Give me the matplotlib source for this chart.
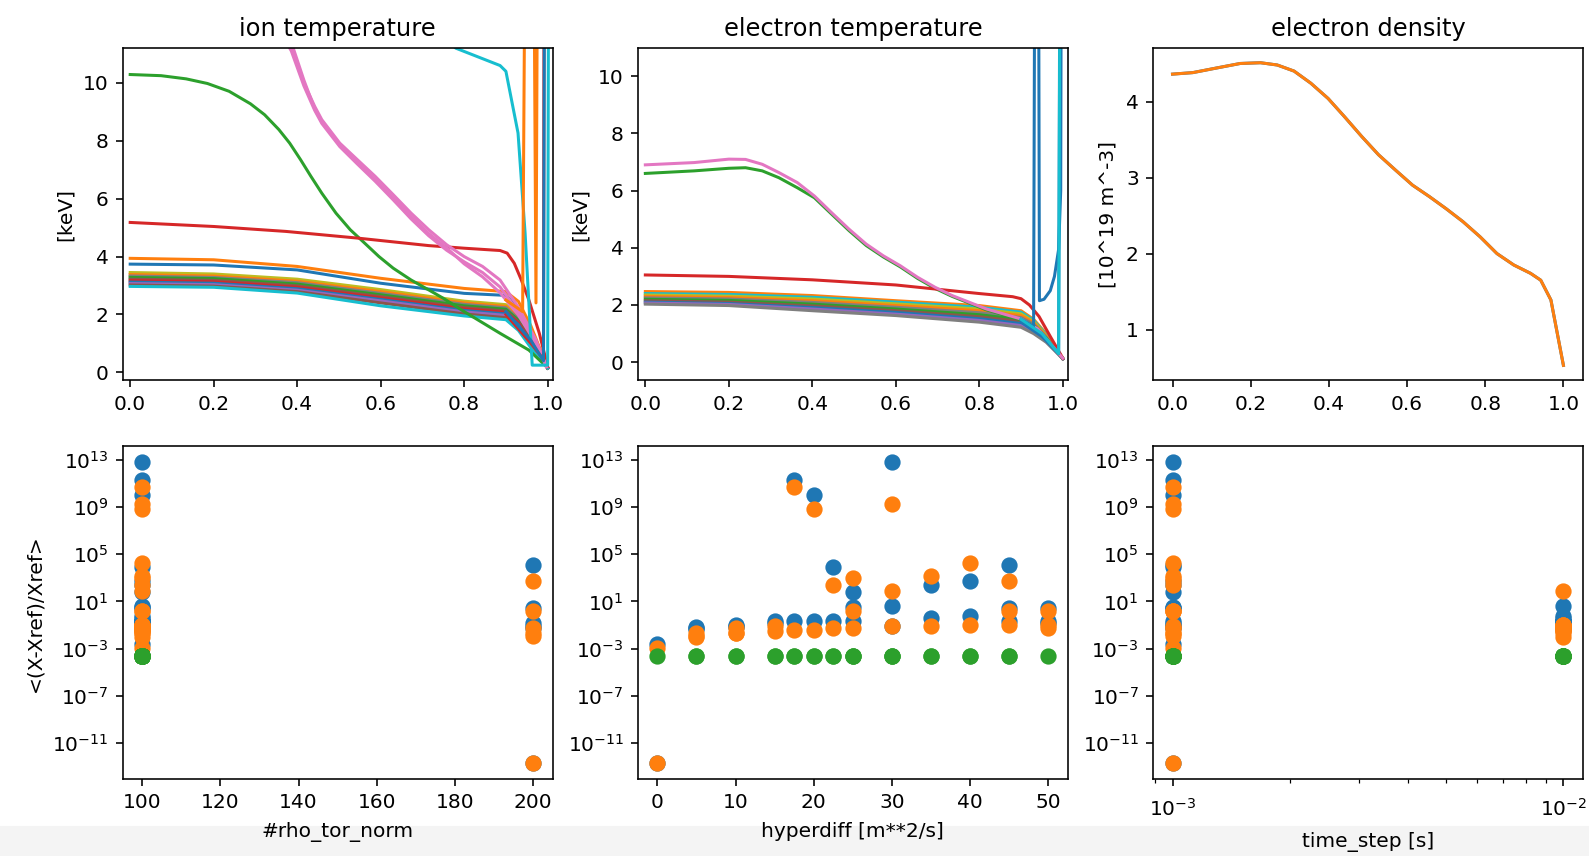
import numpy as np
import matplotlib.pyplot as plt
from matplotlib.patches import Rectangle
from matplotlib.ticker import NullLocator

# ---- profiles (top row) ----
rho_band = [0.0, 0.2, 0.4, 0.6, 0.8, 0.9, 0.93, 0.96, 1.0]

# ion temperature [keV], bulk of the scan
ti_band = [
    ('C1', [3.94, 3.89, 3.66, 3.25, 2.90, 2.79, 2.45, 1.60, 0.15]),
    ('C0', [3.74, 3.71, 3.54, 3.08, 2.73, 2.66, 2.20, 1.40, 0.15]),
    ('C8', [3.45, 3.40, 3.22, 2.86, 2.46, 2.34, 1.95, 1.30, 0.15]),
    ('C1', [3.38, 3.33, 3.15, 2.79, 2.40, 2.28, 1.90, 1.25, 0.15]),
    ('C7', [3.33, 3.28, 3.10, 2.73, 2.35, 2.23, 1.85, 1.20, 0.15]),
    ('C2', [3.28, 3.24, 3.05, 2.68, 2.30, 2.18, 1.80, 1.15, 0.15]),
    ('C5', [3.22, 3.18, 2.99, 2.62, 2.24, 2.12, 1.75, 1.10, 0.15]),
    ('C3', [3.17, 3.13, 2.94, 2.57, 2.19, 2.07, 1.70, 1.05, 0.15]),
    ('C0', [3.12, 3.08, 2.89, 2.52, 2.14, 2.02, 1.65, 1.00, 0.15]),
    ('C4', [3.07, 3.03, 2.84, 2.47, 2.09, 1.97, 1.60, 0.95, 0.15]),
    ('C5', [3.02, 2.98, 2.79, 2.40, 2.02, 1.89, 1.52, 0.90, 0.15]),
    ('C9', [2.97, 2.94, 2.74, 2.30, 1.95, 1.82, 1.45, 0.85, 0.15]),
]
ti_green_rho = [0.0, 0.074, 0.134, 0.185, 0.237, 0.288, 0.322, 0.356, 0.382, 0.408, 0.433,
                0.459, 0.493, 0.527, 0.562, 0.596, 0.63, 0.673, 0.715, 0.75, 0.80, 0.886,
                0.955, 0.997]
ti_green = [10.29, 10.25, 10.14, 9.98, 9.71, 9.28, 8.90, 8.39, 7.92, 7.35, 6.77,
            6.19, 5.50, 4.93, 4.46, 4.00, 3.60, 3.19, 2.85, 2.56, 2.10, 1.35,
            0.77, 0.20]
ti_pink_rho = [0.0, 0.2, 0.386, 0.416, 0.442, 0.459, 0.502, 0.544, 0.587, 0.63, 0.673,
               0.715, 0.758, 0.80, 0.844, 0.886, 0.929, 0.972, 0.997]
ti_special = [
    ('C2', ti_green_rho, ti_green),
    ('C3', [0.0, 0.2, 0.373, 0.544, 0.715, 0.80, 0.886, 0.903, 0.92, 0.937, 0.955, 0.98, 1.0],
           [5.18, 5.04, 4.87, 4.64, 4.38, 4.29, 4.21, 4.12, 3.77, 3.19, 2.50, 1.35, 0.20]),
    ('C6', ti_pink_rho,
           [20.0, 16.0, 11.23, 10.0, 9.19, 8.73, 7.92, 7.35, 6.77, 6.14, 5.50,
            4.93, 4.41, 4.00, 3.66, 3.19, 2.27, 1.12, 0.20]),
    ('C6', ti_pink_rho,
           [20.3, 16.2, 11.40, 10.1, 9.10, 8.65, 7.85, 7.25, 6.65, 6.02, 5.38,
            4.80, 4.30, 3.75, 3.30, 2.75, 2.00, 1.00, 0.20]),
    ('C6', ti_pink_rho,
           [19.8, 15.9, 11.10, 9.9, 9.05, 8.60, 7.80, 7.20, 6.60, 5.96, 5.30,
            4.72, 4.22, 3.82, 3.45, 2.95, 2.10, 1.05, 0.20]),
    ('C9', [0.0, 0.4, 0.6, 0.78, 0.886, 0.90, 0.929, 0.946, 0.963, 1.0, 1.006],
           [20.0, 16.0, 13.5, 11.2, 10.6, 10.4, 8.27, 4.8, 0.25, 0.25, 40.0]),
    ('C1', [0.9, 0.94, 0.957, 0.972, 0.983], [2.5, 2.1, 40.0, 2.4, 40.0]),
    ('C3', [0.9, 0.96, 0.99, 0.994], [2.0, 1.0, 0.45, 40.0]),
    ('C0', [0.9, 0.96, 0.99, 0.997], [2.1, 1.1, 0.4, 40.0]),
]

# electron temperature [keV]
te_band = [
    ('C1', [2.47, 2.44, 2.33, 2.15, 1.98, 1.80, 1.50, 1.00, 0.12]),
    ('C9', [2.40, 2.37, 2.27, 2.10, 1.92, 1.75, 1.46, 0.97, 0.12]),
    ('C8', [2.35, 2.31, 2.21, 2.04, 1.86, 1.69, 1.42, 0.94, 0.12]),
    ('C1', [2.30, 2.26, 2.15, 1.98, 1.80, 1.63, 1.38, 0.91, 0.12]),
    ('C7', [2.25, 2.21, 2.09, 1.92, 1.73, 1.56, 1.33, 0.88, 0.12]),
    ('C2', [2.20, 2.16, 2.03, 1.86, 1.66, 1.49, 1.28, 0.85, 0.12]),
    ('C5', [2.15, 2.10, 1.97, 1.80, 1.59, 1.42, 1.22, 0.81, 0.12]),
    ('C0', [2.10, 2.05, 1.91, 1.74, 1.52, 1.35, 1.16, 0.77, 0.12]),
    ('C4', [2.07, 2.02, 1.86, 1.68, 1.46, 1.28, 1.08, 0.73, 0.12]),
    ('C7', [2.03, 1.98, 1.80, 1.63, 1.40, 1.22, 1.00, 0.70, 0.12]),
]
te_pink_rho = [0.0, 0.117, 0.2, 0.24, 0.28, 0.32, 0.364, 0.405, 0.446, 0.488, 0.529,
               0.57, 0.611, 0.652, 0.694, 0.735, 0.817, 0.9, 0.94, 1.0]
te_special = [
    ('C2', te_pink_rho,
           [6.60, 6.69, 6.78, 6.80, 6.69, 6.45, 6.10, 5.75, 5.18, 4.60, 4.08,
            3.68, 3.33, 2.93, 2.58, 2.30, 1.83, 1.48, 1.14, 0.14]),
    ('C3', [0.0, 0.2, 0.4, 0.6, 0.8, 0.88, 0.9, 0.92, 0.943, 0.97, 1.0],
           [3.05, 3.00, 2.88, 2.70, 2.40, 2.29, 2.22, 2.00, 1.60, 0.90, 0.14]),
    ('C6', te_pink_rho,
           [6.90, 6.98, 7.10, 7.09, 6.92, 6.63, 6.28, 5.81, 5.23, 4.65, 4.13,
            3.72, 3.37, 2.97, 2.62, 2.33, 1.86, 1.51, 1.16, 0.14]),
    ('C0', [0.9, 0.93, 0.938, 0.944, 0.955, 0.97, 0.98, 0.99, 0.995, 1.0],
           [1.5, 1.25, 40.0, 2.15, 2.2, 2.5, 3.0, 3.95, 6.0, 40.0]),
    ('C0', [0.9, 0.95, 0.99, 0.998], [1.4, 0.9, 0.3, 40.0]),
    ('C9', [0.9, 0.95, 0.99, 0.999], [1.5, 1.0, 0.3, 40.0]),
]

# electron density [10^19 m^-3], identical for every run
ne_rho = [0.0, 0.052, 0.112, 0.173, 0.225, 0.268, 0.311, 0.354, 0.398, 0.44, 0.484, 0.527,
          0.57, 0.614, 0.657, 0.70, 0.743, 0.787, 0.83, 0.873, 0.916, 0.942, 0.968, 1.0]
ne_prof = [4.36, 4.38, 4.44, 4.50, 4.51, 4.48, 4.40, 4.24, 4.04, 3.80, 3.54, 3.30,
           3.10, 2.90, 2.75, 2.59, 2.42, 2.22, 2.00, 1.85, 1.74, 1.65, 1.39, 0.53]

# ---- scan results (bottom row) ----
nan = np.nan
run_nrho = [200, 100, 100, 100, 100, 100, 100, 100, 100, 100, 100, 100, 100, 100, 100, 100,
            100, 100, 100, 100, 100, 100, 100, 100, 200, 100, 100, 200, 200, 100, 200, 200]
run_hyperdiff = [0, 0, 5, 5, 10, 10, 15, 15, 17.5, 17.5, 20, 20, 22.5, 22.5, 25, 25,
                 25, 30, 30, 30, 35, 35, 40, 40, 45, 45, 45, 50, 50, 50, 5, 10]
run_dt = [1e-3, 1e-3, 1e-3, 1e-2, 1e-3, 1e-2, 1e-3, 1e-2, 1e-3, 1e-2, 1e-3, 1e-2, 1e-3, 1e-2, 1e-3, 1e-3,
          1e-2, 1e-3, 1e-2, 1e-2, 1e-3, 1e-2, 1e-3, 1e-2, 1e-3, 1e-3, 1e-2, 1e-3, 1e-3, 1e-2, 1e-3, 1e-3]
# log10 of <(X-Xref)/Xref> for Ti, Te and ne (nan: exactly zero)
log_err_ti = [-12.75, -2.58, -1.17, -1.35, -0.98, -1.15, -0.69, -0.85, 11.30, -0.69, 10.03, -0.69,
              3.88, -0.69, 1.76, 0.52, -0.69, 12.86, 0.58, -1.12, 2.41, -0.41, 2.69, -0.27,
              4.10, 0.44, -0.69, 0.44, -0.80, -0.69, -1.30, -1.10]
log_err_te = [-12.70, -2.95, -1.68, -2.00, -1.26, -1.68, -1.12, -1.54, 10.74, -1.40, 8.82, -1.40,
              2.36, -1.26, 2.98, 0.15, -1.26, 9.27, 1.85, -1.12, 3.12, -1.12, 4.25, -0.98,
              2.69, 0.15, -0.98, 0.20, -1.26, -0.98, -1.97, -1.68]
log_err_ne = [nan, -3.6, -3.6, -3.6, -3.6, -3.6, -3.6, -3.6, -3.6, -3.6, -3.6, -3.6,
              -3.6, -3.6, -3.6, -3.6, -3.6, -3.6, -3.6, -3.6, -3.6, -3.6, -3.6, -3.6,
              nan, -3.6, -3.6, nan, nan, -3.6, nan, nan]

fig, ax = plt.subplots(2, 3, figsize=(1589 / 145, 856 / 145), dpi=145)
fig.subplots_adjust(left=0.0772, right=0.9962, top=0.9444, bottom=0.0896,
                    wspace=0.198, hspace=0.198)

# Ti
for c, v in ti_band:
    ax[0, 0].plot(rho_band, v, color=c)
for c, r, v in ti_special:
    ax[0, 0].plot(r, v, color=c)
ax[0, 0].set_xlim(-0.018, 1.012)
ax[0, 0].set_ylim(-0.28, 11.22)
ax[0, 0].set(title='ion temperature', ylabel='[keV]')

# Te
for c, v in te_band:
    ax[0, 1].plot(rho_band, v, color=c)
for c, r, v in te_special:
    ax[0, 1].plot(r, v, color=c)
ax[0, 1].set_xlim(-0.018, 1.012)
ax[0, 1].set_ylim(-0.64, 11.0)
ax[0, 1].set(title='electron temperature', ylabel='[keV]')

# ne
for c in ['C0', 'C1']:
    ax[0, 2].plot(ne_rho, ne_prof, color=c)
ax[0, 2].set(title='electron density', ylabel='[10^19 m^-3]')
ax[0, 2].set_yticks([1, 2, 3, 4])

for a in ax[0]:
    a.set_xticks([0.0, 0.2, 0.4, 0.6, 0.8, 1.0])

# error vs scan parameter
err_ti = 10.0 ** np.array(log_err_ti)
err_te = 10.0 ** np.array(log_err_te)
err_ne = 10.0 ** np.array(log_err_ne)
params = [run_nrho, run_hyperdiff, run_dt]
xlabels = ['#rho_tor_norm', 'hyperdiff [m**2/s]', 'time_step [s]']
for i in range(3):
    a = ax[1, i]
    a.scatter(params[i], err_ti, color='C0', s=50)
    a.scatter(params[i], err_te, color='C1', s=50)
    a.scatter(params[i], err_ne, color='C2', s=50)
    a.set_yscale('log')
    a.set_ylim(10 ** -14.1, 10 ** 14.15)
    a.set_yticks([1e-11, 1e-7, 1e-3, 1e1, 1e5, 1e9, 1e13])
    a.yaxis.set_minor_locator(NullLocator())
    a.set_xlabel(xlabels[i], labelpad=5)
ax[1, 0].set_ylabel('<(X-Xref)/Xref>')
ax[1, 0].set_xticks([100, 120, 140, 160, 180, 200])
ax[1, 1].set_xticks([0, 10, 20, 30, 40, 50])
ax[1, 2].set_xscale('log')
ax[1, 2].tick_params(axis='x', which='major', pad=5.5)
ax[1, 2].xaxis.labelpad = 6.5

# light strip along the bottom edge
fig.add_artist(Rectangle((0, 0), 1, 0.034, transform=fig.transFigure,
                         color='#f4f4f4', zorder=-1))

plt.savefig('out.png', dpi=145)
